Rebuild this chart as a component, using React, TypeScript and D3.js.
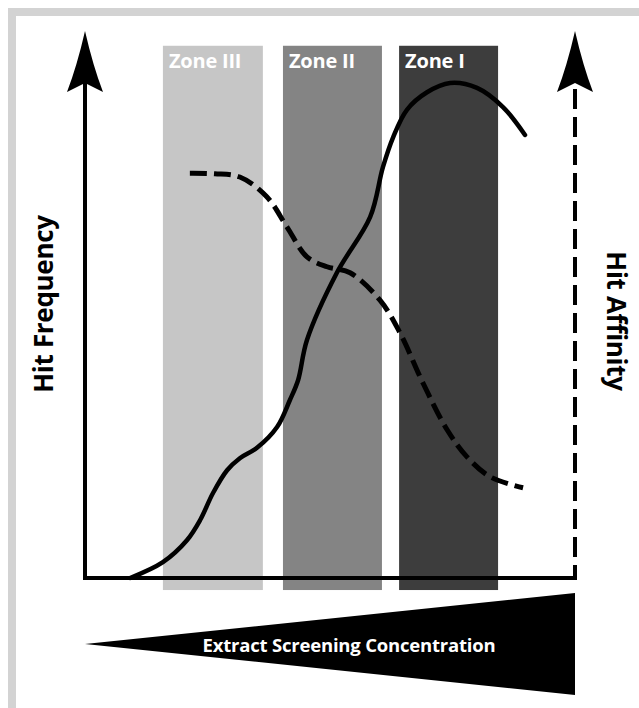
import React from 'react';
import * as d3 from 'd3';

// zone bands along the concentration axis (0-100)
const zoneNames = ['Zone III', 'Zone II', 'Zone I'];
const zoneStart = [15.9, 40.4, 64.1];
const zoneEnd = [36.3, 60.6, 84.3];
const zoneFill = ['#c6c6c6', '#848484', '#3d3d3d'];

// hit frequency (solid)
const freqX = [9.2, 15.9, 20.8, 23.5, 26.1, 29.0, 31.6, 35.1, 39.2, 41.8, 43.5, 45.3, 51.4, 58.2, 60.8, 62.9, 65.7, 69.8, 74.5, 80.0, 85.3, 89.8];
const freqY = [0, 2.9, 6.9, 10.6, 15.5, 19.7, 21.9, 23.8, 27.6, 32.5, 36.2, 43.5, 55.8, 66.0, 75.1, 80.6, 85.6, 88.8, 90.5, 89.6, 86.1, 81.0];

// hit affinity (dashed)
const affX = [21.4, 26.5, 31.6, 37.1, 41.2, 45.3, 49.4, 54.1, 60.2, 64.3, 69.0, 73.9, 78.0, 82.7, 89.4];
const affY = [74.0, 73.9, 73.3, 69.7, 64.2, 58.7, 56.9, 55.8, 50.8, 44.8, 35.6, 27.1, 22.1, 18.5, 16.5];

const W = 639;
const H = 708;
const font = '"Open Sans", "DejaVu Sans", sans-serif';

export default function App() {
  const x = d3.scaleLinear().domain([0, 100]).range([85, 575]);
  const y = d3.scaleLinear().domain([0, 100]).range([578, 31]);

  const line = d3.line<[number, number]>()
    .x(d => x(d[0]))
    .y(d => y(d[1]))
    .curve(d3.curveCatmullRom.alpha(0.5));

  const freq = freqX.map((v, i) => [v, freqY[i]] as [number, number]);
  const aff = affX.map((v, i) => [v, affY[i]] as [number, number]);

  const x0 = x(0);
  const x1 = x(100);
  const y0 = y(0);
  const yTop = y(100);

  const arrow = (cx: number) =>
    `M${cx},${yTop} Q${cx + 8},${yTop + 35} ${cx + 18},${yTop + 61} L${cx},${yTop + 52} L${cx - 18},${yTop + 61} Q${cx - 8},${yTop + 35} ${cx},${yTop} Z`;

  return (
    <svg width={W} height={H} style={{ position: 'absolute', left: 0, top: 0, background: '#fff' }}>
      <rect x={12} y={12} width={W + 20} height={H + 20} fill="#fff" stroke="#d3d3d3" strokeWidth={8} />

      {zoneNames.map((name, i) => (
        <g key={name}>
          <rect x={x(zoneStart[i])} y={y(97.3)} width={x(zoneEnd[i]) - x(zoneStart[i])} height={y(-2.2) - y(97.3)} fill={zoneFill[i]} />
          <text x={x(zoneStart[i]) + 6} y={y(97.3) + 22} fill="#fff" fontFamily={font} fontWeight={700} fontSize={20} letterSpacing={-0.2}>{name}</text>
        </g>
      ))}

      {/* axes */}
      <line x1={x0} y1={yTop + 50} x2={x0} y2={y0 + 2} stroke="#000" strokeWidth={4} />
      <line x1={x0 - 2} y1={y0} x2={x1 + 2} y2={y0} stroke="#000" strokeWidth={4} />
      <line x1={x1} y1={yTop + 58} x2={x1} y2={y0 + 2} stroke="#000" strokeWidth={4} strokeDasharray="20,8" />
      <path d={arrow(x0)} fill="#000" />
      <path d={arrow(x1)} fill="#000" />

      <path d={line(freq) ?? ''} fill="none" stroke="#000" strokeWidth={4.5} strokeLinecap="round" />
      <path d={line(aff) ?? ''} fill="none" stroke="#000" strokeWidth={5} strokeDasharray="17,7" />

      <text transform="translate(53,304) rotate(-90)" textAnchor="middle" fontFamily={font} fontWeight={700} fontSize={26} letterSpacing={-0.3}>Hit Frequency</text>
      <text transform="translate(607,321) rotate(90)" textAnchor="middle" fontFamily={font} fontWeight={700} fontSize={26} letterSpacing={-0.3}>Hit Affinity</text>

      {/* concentration wedge */}
      <path d={`M${x0},644 L${x1},593 L${x1},695 Z`} fill="#000" />
      <text x={349} y={652} textAnchor="middle" fill="#fff" fontFamily={font} fontWeight={700} fontSize={18.5} letterSpacing={-0.2}>Extract Screening Concentration</text>
    </svg>
  );
}
